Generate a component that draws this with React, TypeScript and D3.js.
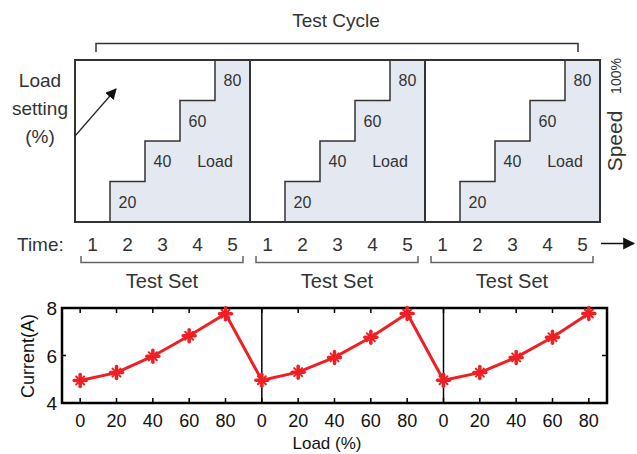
import { scaleBand, scaleLinear, scalePoint, line } from "d3";

const W = 637;
const H = 454;

// top diagram data
const panels = [0, 1, 2];
const timeLabels = ["1", "2", "3", "4", "5"];
const loadSteps = [0, 20, 40, 60, 80];

// bottom chart data
const loadTicks = ["0", "20", "40", "60", "80"];
const currentSet1 = [4.95, 5.28, 5.97, 6.83, 7.76];
const currentSet2 = [4.96, 5.3, 5.92, 6.77, 7.77];
const currentSet3 = [4.96, 5.28, 5.92, 6.77, 7.77];
const yTicks = [4, 6, 8];

const FONT = "'Liberation Sans', Arial, sans-serif";
const GRAY = "#333";
const RED = "#ee2024";

const App = () => {
  // top box
  const slots = panels.flatMap((p) => timeLabels.map((_, i) => `${p}-${i}`));
  const sx = scaleBand().domain(slots).range([75, 600]).padding(0);
  const bw = sx.bandwidth();
  const sy = scaleLinear().domain([0, 80]).range([222, 60]);

  const panelLeft = (p: number) => sx(`${p}-0`) as number;
  const panelRight = (p: number) => (sx(`${p}-4`) as number) + bw;

  const stairPath = (p: number) => {
    const pts: [number, number][] = [];
    const x0 = sx(`${p}-1`) as number;
    pts.push([x0, sy(0)]);
    loadSteps.slice(1).forEach((v, i) => {
      const xa = sx(`${p}-${i + 1}`) as number;
      pts.push([xa, sy(v)]);
      pts.push([xa + bw, sy(v)]);
    });
    pts.push([panelRight(p), sy(0)]);
    return line()(pts) + "Z";
  };

  // bottom chart
  const series = [currentSet1, currentSet2, currentSet3];
  const pts = panels.flatMap((p) => loadTicks.map((_, i) => `${p}-${i}`));
  const bx = scalePoint().domain(pts).range([62, 607]).padding(0.5);
  const by = scaleLinear().domain([4, 8]).range([403, 308]);
  const linePts: [number, number][] = panels.flatMap((p) =>
    series[p].map((v, i) => [bx(`${p}-${i}`) as number, by(v)] as [number, number])
  );

  return (
    <svg width={W} height={H} style={{ position: "absolute", left: 0, top: 0, background: "#fff" }}>
      <defs>
        <marker id="ah" viewBox="0 0 10 10" refX="9" refY="5" markerWidth="11" markerHeight="11" orient="auto" markerUnits="userSpaceOnUse">
          <path d="M0,0 L10,5 L0,10 Z" fill="#111" />
        </marker>
        <marker id="ah2" viewBox="0 0 10 10" refX="9" refY="5" markerWidth="12" markerHeight="13" orient="auto" markerUnits="userSpaceOnUse">
          <path d="M0,0 L10,5 L0,10 Z" fill="#111" />
        </marker>
      </defs>

      {/* Test Cycle header */}
      <text x={336} y={27} fontFamily={FONT} fontSize={19} fill={GRAY} textAnchor="middle">Test Cycle</text>
      <path d="M96,52 V43.5 H578 V52" fill="none" stroke={GRAY} strokeWidth={1.5} />

      {/* staircases */}
      {panels.map((p) => (
        <path key={`st-${p}`} d={stairPath(p)} fill="#e4e9f1" stroke={GRAY} strokeWidth={1.5} />
      ))}
      <rect x={75} y={60} width={525} height={162} fill="none" stroke={GRAY} strokeWidth={2} />
      {panels.slice(1).map((p) => (
        <line key={`dv-${p}`} x1={panelLeft(p)} x2={panelLeft(p)} y1={60} y2={222} stroke={GRAY} strokeWidth={2} />
      ))}
      {panels.map((p) => (
        <g key={`lbl-${p}`} fontFamily={FONT} fill={GRAY} fontSize={16}>
          {loadSteps.slice(1).map((v, i) => (
            <text key={v} x={(sx(`${p}-${i + 1}`) as number) + bw / 2} y={(sy(v) + sy(v - 20)) / 2 + 6} textAnchor="middle">{v}</text>
          ))}
          <text x={sx(`${p}-4`) as number} y={(sy(40) + sy(20)) / 2 + 6} textAnchor="middle">Load</text>
        </g>
      ))}

      {/* left label + arrow */}
      <g fontFamily={FONT} fontSize={19} fill={GRAY} textAnchor="middle">
        <text x={40} y={87}>Load</text>
        <text x={40} y={115}>setting</text>
        <text x={40} y={143}>(%)</text>
      </g>
      <line x1={75} y1={136} x2={116} y2={89} stroke="#222" strokeWidth={1.2} markerEnd="url(#ah)" />

      {/* speed label */}
      <text transform="translate(622,141) rotate(-90)" fontFamily={FONT} fontSize={21} fill={GRAY} textAnchor="middle">Speed</text>
      <text transform="translate(621,76) rotate(-90)" fontFamily={FONT} fontSize={14} fill={GRAY} textAnchor="middle">100%</text>

      {/* time row */}
      <text x={17} y={251} fontFamily={FONT} fontSize={19} fill={GRAY}>Time:</text>
      {panels.map((p) =>
        timeLabels.map((t, i) => (
          <text key={`t-${p}-${i}`} x={(sx(`${p}-${i}`) as number) + bw / 2} y={251} fontFamily={FONT} fontSize={19} fill={GRAY} textAnchor="middle">{t}</text>
        ))
      )}
      <line x1={601} y1={243.5} x2={634} y2={243.5} stroke="#111" strokeWidth={1.5} markerEnd="url(#ah2)" />

      {/* test set brackets */}
      {panels.map((p) => {
        const l = panelLeft(p) + 6;
        const r = panelRight(p) - 7;
        return (
          <g key={`ts-${p}`}>
            <path d={`M${l},256 V262.5 H${r} V256`} fill="none" stroke="#666" strokeWidth={1.5} />
            <text x={(l + r) / 2} y={288} fontFamily={FONT} fontSize={20} fill={GRAY} textAnchor="middle">Test Set</text>
          </g>
        );
      })}

      {/* bottom chart */}
      <g>
        {panels.slice(1).map((p) => (
          <line key={`bd-${p}`} x1={bx(`${p}-0`) as number} x2={bx(`${p}-0`) as number} y1={308} y2={403} stroke="#000" strokeWidth={1.5} />
        ))}
        {pts.map((k) => (
          <g key={`xt-${k}`}>
            <line x1={bx(k) as number} x2={bx(k) as number} y1={403} y2={398} stroke="#000" strokeWidth={1.5} />
            <line x1={bx(k) as number} x2={bx(k) as number} y1={308} y2={313} stroke="#000" strokeWidth={1.5} />
            <text x={bx(k) as number} y={427} fontFamily={FONT} fontSize={18} fill="#111" textAnchor="middle">{loadTicks[+k.split("-")[1]]}</text>
          </g>
        ))}
        {yTicks.map((v) => (
          <g key={`yt-${v}`}>
            <line x1={61} x2={66} y1={by(v)} y2={by(v)} stroke="#000" strokeWidth={1.5} />
            <line x1={607} x2={602} y1={by(v)} y2={by(v)} stroke="#000" strokeWidth={1.5} />
            <text x={57} y={by(v) + 7} fontFamily={FONT} fontSize={19} fill="#111" textAnchor="end">{v}</text>
          </g>
        ))}
        <rect x={62} y={308} width={545} height={95} fill="none" stroke="#000" strokeWidth={2.5} />
        <path d={line()(linePts) as string} fill="none" stroke={RED} strokeWidth={3} strokeLinejoin="round" />
        {linePts.map(([x, y], i) => (
          <g key={`mk-${i}`} stroke={RED} strokeLinecap="round">
            <line x1={x - 6} x2={x + 6} y1={y} y2={y} strokeWidth={3.5} />
            <line x1={x} x2={x} y1={y - 6} y2={y + 6} strokeWidth={3.5} />
            <line x1={x - 4} x2={x + 4} y1={y - 4} y2={y + 4} strokeWidth={2} />
            <line x1={x - 4} x2={x + 4} y1={y + 4} y2={y - 4} strokeWidth={2} />
          </g>
        ))}
        <text transform="translate(34,356) rotate(-90)" fontFamily={FONT} fontSize={18} fill="#111" textAnchor="middle">Current(A)</text>
        <text x={327} y={449} fontFamily={FONT} fontSize={17} fill="#111" textAnchor="middle">Load (%)</text>
      </g>
    </svg>
  );
};

export default App;
